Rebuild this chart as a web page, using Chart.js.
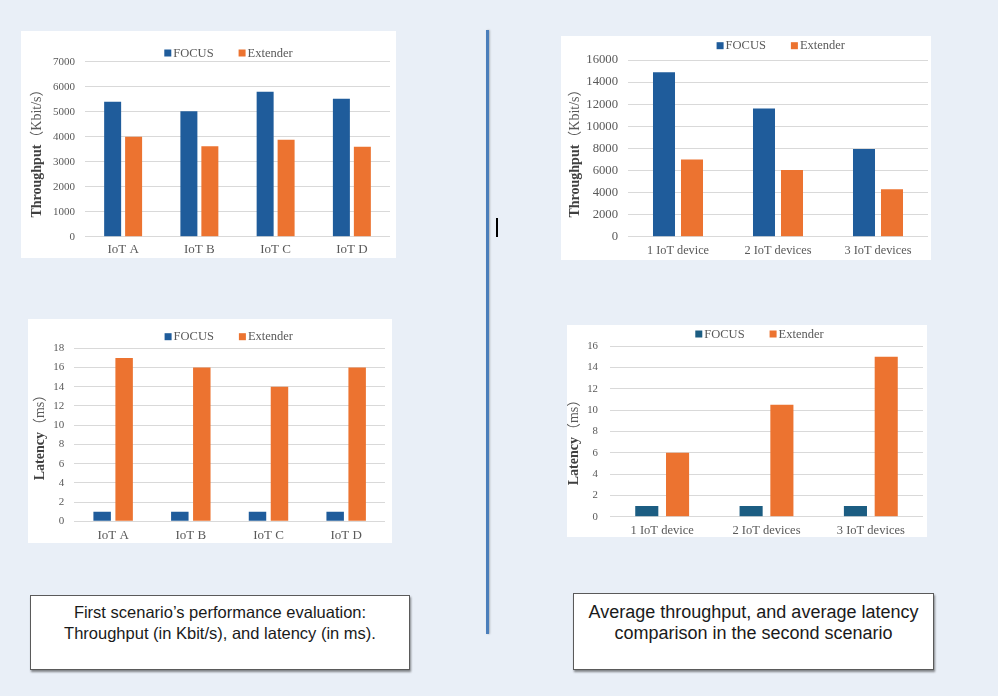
<!DOCTYPE html>
<html>
<head>
<meta charset="utf-8">
<title>FOCUS vs Extender</title>
<script src="https://cdn.jsdelivr.net/npm/chart.js@4.4.0/dist/chart.umd.min.js"></script>
<style>
  body { margin: 0; width: 998px; height: 696px; background: #e9eff7; position: relative; overflow: hidden; }
  .panel { position: absolute; background: #fff; }
  .divider { position: absolute; left: 486px; top: 30px; width: 3px; height: 604px; background: #4a7ebb; box-shadow: 1px 0 2px rgba(0,0,0,0.25); }
  .cursor { position: absolute; left: 496px; top: 218px; width: 2px; height: 19px; background: #000; }
  .caption { position: absolute; background: #fff; border: 1px solid #5a5a5a; box-shadow: 1px 2px 2px rgba(0,0,0,0.45);
             box-sizing: border-box; font-family: 'Liberation Sans', Arial, sans-serif; color: #1a1a1a; text-align: center; }
</style>
</head>
<body>

<div class="panel" id="p1"><canvas id="c1"></canvas></div>
<div class="panel" id="p2"><canvas id="c2"></canvas></div>
<div class="panel" id="p3"><canvas id="c3"></canvas></div>
<div class="panel" id="p4"><canvas id="c4"></canvas></div>

<div class="divider"></div>
<div class="cursor"></div>

<div class="caption" style="left:30px;top:595px;width:380px;height:75px;font-size:16.5px;line-height:21px;padding-top:6px;">
  First scenario’s performance evaluation:<br>Throughput (in Kbit/s), and latency (in ms).
</div>
<div class="caption" style="left:573px;top:593px;width:361px;height:77px;font-size:18px;line-height:21px;padding-top:8px;">
  Average throughput, and average latency<br>comparison in the second scenario
</div>

<script>
// categories
const iotNodes = ['IoT A', 'IoT B', 'IoT C', 'IoT D']
const iotCounts = ['1 IoT device', '2 IoT devices', '3 IoT devices']
const seriesNames = ['FOCUS', 'Extender']

// first scenario
const thrFocus1 = [5400, 5020, 5800, 5520]
const thrExtender1 = [4000, 3620, 3880, 3600]
const latFocus1 = [1, 1, 1, 1]
const latExtender1 = [17, 16, 14, 16]

// second scenario
const thrFocus2 = [14900, 11600, 7950]
const thrExtender2 = [7000, 6050, 4300]
const latFocus2 = [1, 1, 1]
const latExtender2 = [6, 10.5, 15]

const blue = '#1f5c9b'
const teal = '#1c5d82'
const orange = '#ec7330'
const grey = '#595959'
const serif = "'Liberation Serif', 'Times New Roman', serif"

// legend drawn as a centred row of small squares, like the office chart
const pairLegend = {
    id: 'pairLegend',
    afterDraw(chart, args, o) {
        const ctx = chart.ctx
        const box = 7, gapText = 2, gapItem = 25
        ctx.save()
        ctx.font = `${o.size}px ${serif}`
        ctx.textBaseline = 'middle'
        let items = chart.data.datasets.map(d => ({ label: d.label, color: d.backgroundColor, w: ctx.measureText(d.label).width }))
        let total = items.reduce((s, it) => s + box + gapText + it.w, 0) + gapItem * (items.length - 1)
        let x = o.cx - total / 2
        items.forEach(it => {
            ctx.fillStyle = it.color
            ctx.fillRect(x, o.cy - box / 2, box, box)
            x += box + gapText
            ctx.fillStyle = grey
            ctx.fillText(it.label, x, o.cy + 0.5)
            x += it.w + gapItem
        })
        ctx.restore()
    }
}

// rotated axis title, bold word + light unit
const splitTitle = {
    id: 'splitTitle',
    afterDraw(chart, args, o) {
        const ctx = chart.ctx
        const boldFont = `bold ${o.size}px ${serif}`
        const restFont = `${o.size}px ${serif}, 'Noto Sans CJK SC'`
        ctx.save()
        ctx.translate(o.x, o.y)
        ctx.rotate(-Math.PI / 2)
        ctx.textBaseline = 'middle'
        ctx.font = boldFont
        let w1 = ctx.measureText(o.bold).width
        ctx.font = restFont
        let w2 = ctx.measureText(o.rest).width
        let x = -(w1 + w2) / 2
        ctx.font = boldFont
        ctx.fillStyle = '#404040'
        ctx.fillText(o.bold, x, 0)
        ctx.font = restFont
        ctx.fillStyle = grey
        ctx.fillText(o.rest, x + w1, 0)
        ctx.restore()
    }
}

function makeChart(id, panel, plot, labels, focus, ext, s) {
    let div = document.getElementById('p' + id)
    div.style.left = panel.x + 'px'
    div.style.top = panel.y + 'px'
    div.style.width = panel.w + 'px'
    div.style.height = panel.h + 'px'

    return new Chart(document.getElementById('c' + id), {
        type: 'bar',
        data: {
            labels: labels,
            datasets: [{
                label: seriesNames[0],
                data: focus,
                backgroundColor: s.focusColor,
                barPercentage: s.bp,
                categoryPercentage: s.cp,
            }, {
                label: seriesNames[1],
                data: ext,
                backgroundColor: orange,
                barPercentage: s.bp,
                categoryPercentage: s.cp,
            }]
        },
        options: {
            animation: false,
            responsive: true,
            maintainAspectRatio: false,
            layout: { padding: { left: 0, top: plot.t - panel.y, right: panel.x + panel.w - plot.r, bottom: 0 } },
            plugins: {
                legend: { display: false },
                tooltip: { enabled: false },
                pairLegend: { cx: s.legend[0] - panel.x, cy: s.legend[1] - panel.y, size: 12.5 },
                splitTitle: { x: s.title[0] - panel.x, y: s.title[1] - panel.y, size: 14, bold: s.titleText[0], rest: s.titleText[1] }
            },
            scales: {
                x: {
                    grid: { display: false, drawTicks: false },
                    border: { display: false },
                    ticks: { color: grey, font: { family: serif, size: s.xSize }, padding: s.xPad, maxRotation: 0 },
                    afterFit(scale) { scale.height = panel.y + panel.h - plot.b }
                },
                y: {
                    min: 0,
                    max: s.max,
                    grid: { color: '#d9d9d9', drawTicks: false },
                    border: { display: false },
                    ticks: { stepSize: s.step, color: grey, font: { family: serif, size: s.ySize }, padding: s.yPad,
                             format: { useGrouping: false } },
                    afterFit(scale) { scale.width = plot.l - panel.x }
                }
            }
        },
        plugins: [pairLegend, splitTitle]
    })
}

makeChart(1, { x: 21, y: 31, w: 375, h: 227 }, { l: 85, t: 61.7, r: 390, b: 236.7 }, iotNodes, thrFocus1, thrExtender1, {
    focusColor: blue, bp: 0.81, cp: 0.55, max: 7000, step: 1000, xSize: 13, ySize: 11, xPad: 5.5, yPad: 10,
    legend: [228.5, 53], title: [37, 150], titleText: ['Throughput', '（Kbit/s）']
})

makeChart(2, { x: 561, y: 36, w: 370, h: 224 }, { l: 628, t: 60, r: 928, b: 236.7 }, iotCounts, thrFocus2, thrExtender2, {
    focusColor: blue, bp: 0.786, cp: 0.56, max: 16000, step: 2000, xSize: 12.3, ySize: 12.7, xPad: 6.8, yPad: 10,
    legend: [780.8, 45.7], title: [575.5, 150], titleText: ['Throughput', '（Kbit/s）']
})

makeChart(3, { x: 28, y: 319, w: 364, h: 224 }, { l: 74.3, t: 348.3, r: 385, b: 521.3 }, iotNodes, latFocus1, latExtender1, {
    focusColor: blue, bp: 0.795, cp: 0.566, max: 18, step: 2, xSize: 13, ySize: 11, xPad: 6.6, yPad: 10,
    legend: [228.8, 336.7], title: [40, 434], titleText: ['Latency', '（ms）']
})

makeChart(4, { x: 567, y: 325, w: 360, h: 212 }, { l: 610, t: 346, r: 923, b: 516.7 }, iotCounts, latFocus2, latExtender2, {
    focusColor: teal, bp: 0.75, cp: 0.59, max: 16, step: 2, xSize: 12.5, ySize: 10.8, xPad: 6.5, yPad: 12,
    legend: [759.5, 334], title: [574.5, 439], titleText: ['Latency', '（ms）']
})
</script>
</body>
</html>
